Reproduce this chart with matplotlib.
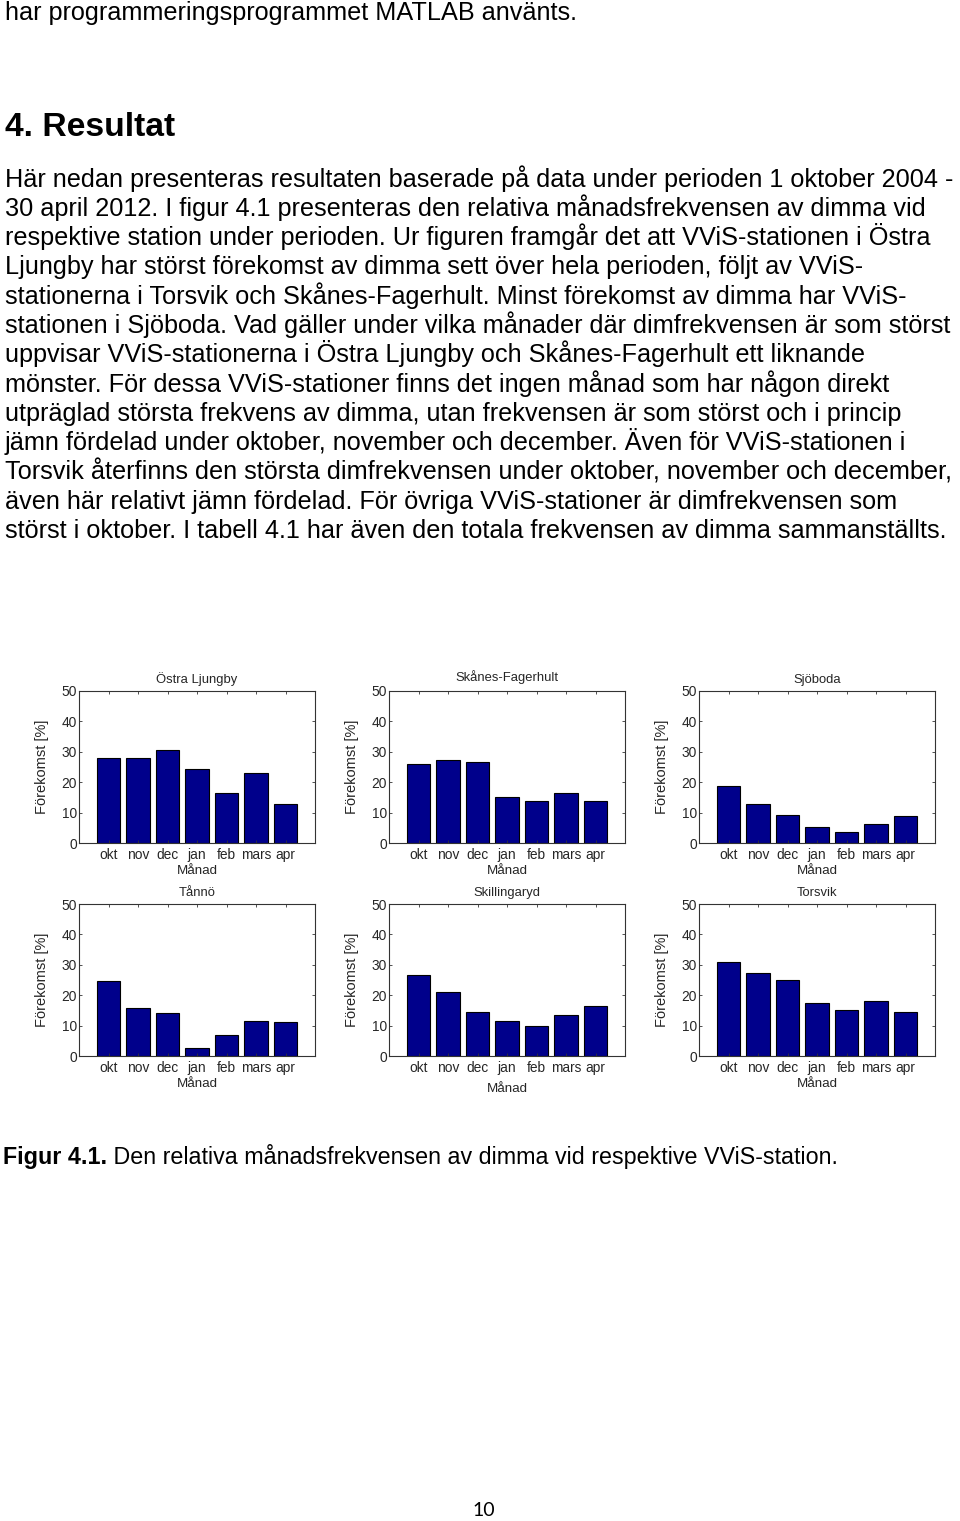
import matplotlib
matplotlib.use('Agg')
import matplotlib.pyplot as plt

# ---------------- data ----------------
months = ['okt', 'nov', 'dec', 'jan', 'feb', 'mars', 'apr']
stations = ['Östra Ljungby', 'Skånes-Fagerhult', 'Sjöboda',
            'Tånnö', 'Skillingaryd', 'Torsvik']
ostra_ljungby = [28.1, 27.8, 30.6, 24.5, 16.6, 23.0, 12.7]
skanes_fagerhult = [25.9, 27.4, 26.7, 15.0, 13.8, 16.6, 13.8]
sjoboda = [18.6, 12.7, 9.3, 5.1, 3.7, 6.2, 8.8]
tanno = [24.8, 15.7, 14.0, 2.7, 6.8, 11.4, 11.2]
skillingaryd = [26.6, 21.1, 14.6, 11.4, 9.8, 13.5, 16.6]
torsvik = [30.9, 27.4, 25.0, 17.3, 15.1, 18.2, 14.6]
yticks = [0, 10, 20, 30, 40, 50]

heading = '4. Resultat'
top_line = 'har programmeringsprogrammet MATLAB använts.'
body_lines = [
    'Här nedan presenteras resultaten baserade på data under perioden 1 oktober 2004 -',
    '30 april 2012. I figur 4.1 presenteras den relativa månadsfrekvensen av dimma vid',
    'respektive station under perioden. Ur figuren framgår det att VViS-stationen i Östra',
    'Ljungby har störst förekomst av dimma sett över hela perioden, följt av VViS-',
    'stationerna i Torsvik och Skånes-Fagerhult. Minst förekomst av dimma har VViS-',
    'stationen i Sjöboda. Vad gäller under vilka månader där dimfrekvensen är som störst',
    'uppvisar VViS-stationerna i Östra Ljungby och Skånes-Fagerhult ett liknande',
    'mönster. För dessa VViS-stationer finns det ingen månad som har någon direkt',
    'utpräglad största frekvens av dimma, utan frekvensen är som störst och i princip',
    'jämn fördelad under oktober, november och december. Även för VViS-stationen i',
    'Torsvik återfinns den största dimfrekvensen under oktober, november och december,',
    'även här relativt jämn fördelad. För övriga VViS-stationer är dimfrekvensen som',
    'störst i oktober. I tabell 4.1 har även den totala frekvensen av dimma sammanställts.',
]
caption_bold = 'Figur 4.1.'
caption_rest = ' Den relativa månadsfrekvensen av dimma vid respektive VViS-station.'
page_number = '10'

# ---------------- figure ----------------
W, H = 960, 1521
fig = plt.figure(figsize=(W / 100, H / 100), dpi=100)
fig.patch.set_facecolor('white')
renderer = fig.canvas.get_renderer()
BODY = 'Liberation Sans'


def ptext(x, y, s, **kw):
    return fig.text(x / W, 1 - y / H, s, **kw)


def text_width(s, size, weight='normal', family=BODY):
    t = fig.text(0, 0, s, fontsize=size, fontweight=weight, family=family)
    w = t.get_window_extent(renderer).width
    t.remove()
    return w


body_fs = 16.0 * 952.0 / text_width(body_lines[0], 16.0)
head_fs = 16.0 * 170 / text_width(heading, 16.0, weight='bold')

ptext(5, 20, top_line, fontsize=body_fs, family=BODY, va='baseline')
ptext(5, 136, heading, fontsize=head_fs, family=BODY, fontweight='bold', va='baseline')
y0 = 186.5
pitch = 29.3
for i, line in enumerate(body_lines):
    ptext(5, y0 + i * pitch, line, fontsize=body_fs, family=BODY, va='baseline')

# caption
cw = text_width(caption_bold, 16.0, weight='bold') + text_width(caption_rest, 16.0)
cap_fs = 16.0 * 834 / cw
tb = ptext(3, 1164, caption_bold, fontsize=cap_fs, family=BODY, fontweight='bold', va='baseline')
wb = tb.get_window_extent(renderer).width
ptext(3 + wb, 1164, caption_rest, fontsize=cap_fs, family=BODY, va='baseline')

ptext(484, 1511, page_number, fontsize=14, family='Lato', ha='center', va='center')

# ---------------- charts ----------------
series = [ostra_ljungby, skanes_fagerhult, sjoboda, tanno, skillingaryd, torsvik]
lefts = [79, 389, 699]
tops = [691, 904]
aw, ah = 236, 152
CH = 'Liberation Sans'
tc = '#262626'
bar_color = '#00008B'
xlabel_pads = [2.5, 2.5, 2.5, 2.5, 5.5, 2.5]
title_pads = [5.5, 7.0, 5.5, 5.5, 5.5, 5.5]

x = list(range(1, len(months) + 1))
for k, (name, vals) in enumerate(zip(stations, series)):
    r, c = divmod(k, 3)
    ax = fig.add_axes([lefts[c] / W, 1 - (tops[r] + ah) / H, aw / W, ah / H])
    ax.bar(x, vals, width=0.8, color=bar_color, edgecolor='black', linewidth=0.8)
    ax.set_xlim(0, 8)
    ax.set_ylim(0, 50)
    ax.set_yticks(yticks)
    ax.set_xticks(x)
    ax.set_xticklabels(months)
    ax.tick_params(direction='in', length=2.5, width=0.6, top=True, right=True,
                   labelsize=9.9, colors='#333333', labelcolor=tc)
    ax.tick_params(axis='y', pad=1.5)
    ax.tick_params(axis='x', pad=3.5)
    for lab in ax.get_xticklabels() + ax.get_yticklabels():
        lab.set_family(CH)
    for sp in ax.spines.values():
        sp.set_linewidth(0.8)
        sp.set_color('#333333')
    ax.set_title(name, fontsize=9.4, family=CH, color=tc, pad=title_pads[k])
    ax.set_xlabel('Månad', fontsize=9.6, family=CH, color=tc, labelpad=xlabel_pads[k])
    ax.set_ylabel('Förekomst [%]', fontsize=10.5, family=CH, color=tc)
    ax.yaxis.set_label_coords(-30 / aw, 0.5)

fig.savefig('out.png', dpi=100, facecolor='white')
